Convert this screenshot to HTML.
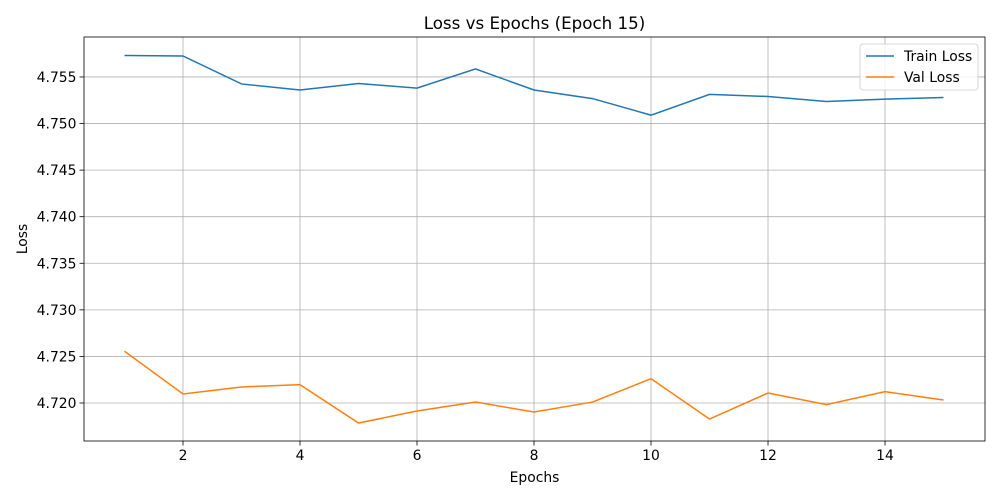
<!DOCTYPE html>
<html><head><meta charset="utf-8"><style>
html,body{margin:0;padding:0;background:#fff;}
svg{display:block;font-family:"DejaVu Sans","Liberation Sans",sans-serif;}
</style></head><body>
<svg id="chart" width="1000" height="500"></svg>
<script>
const epochs=[1,2,3,4,5,6,7,8,9,10,11,12,13,14,15];
const trainLoss=[4.75731,4.75725,4.75425,4.7536,4.7543,4.7538,4.75586,4.7536,4.75268,4.7509,4.75313,4.7529,4.75237,4.75262,4.7528];
const valLoss=[4.72556,4.72097,4.72172,4.72197,4.71785,4.71914,4.7201,4.71903,4.7201,4.72261,4.71828,4.72107,4.71983,4.72122,4.72032];
const xTicks=[2,4,6,8,10,12,14];
const yTicks=[4.720,4.725,4.730,4.735,4.740,4.745,4.750,4.755];
const L=84,R=985,T=37,B=441;
const xMin=0.308,xMax=15.709,yMin=4.71592,yMax=4.75929;
const sx=v=>L+(v-xMin)/(xMax-xMin)*(R-L);
const sy=v=>B-(v-yMin)/(yMax-yMin)*(B-T);
const svg=document.getElementById('chart');
const NS='http://www.w3.org/2000/svg';
function mk(tag,attrs,parent){const e=document.createElementNS(NS,tag);for(const k in attrs)e.setAttribute(k,attrs[k]);(parent||svg).appendChild(e);return e;}
const grid=mk('g',{});


xTicks.forEach(t=>{
  const x=sx(t);
  mk('line',{x1:x,x2:x,y1:T,y2:B,stroke:'#b0b0b0','stroke-width':0.8},grid);
  mk('line',{x1:x,x2:x,y1:B,y2:B+4.5,stroke:'#000','stroke-width':0.8});
  const tx=mk('text',{x:x,y:B+19,'text-anchor':'middle','font-size':13.9,fill:'#000'});
  tx.textContent=t;
  
  
});
yTicks.forEach(t=>{
  const y=sy(t);
  mk('line',{x1:L,x2:R,y1:y,y2:y,stroke:'#b0b0b0','stroke-width':0.8},grid);
  mk('line',{x1:L-4.5,x2:L,y1:y,y2:y,stroke:'#000','stroke-width':0.8});
  const tx=mk('text',{x:L-7.5,y:y+5,'text-anchor':'end','font-size':13.9,fill:'#000'});
  tx.textContent=t.toFixed(3);
  
  
});
function line(vals,color,name){
  const p=mk('polyline',{points:vals.map((v,i)=>sx(epochs[i])+','+sy(v)).join(' '),fill:'none',stroke:color,'stroke-width':1.5});
  
  
}
line(trainLoss,'#1f77b4','train-loss-line');
line(valLoss,'#ff7f0e','val-loss-line');
const frame=mk('rect',{x:L,y:T,width:R-L,height:B-T,fill:'none',stroke:'#000','stroke-width':0.8});


const title=mk('text',{x:(L+R)/2,y:29,'text-anchor':'middle','font-size':16.7,fill:'#000'});
title.textContent='Loss vs Epochs (Epoch 15)';


const xl=mk('text',{x:(L+R)/2,y:482,'text-anchor':'middle','font-size':13.9,fill:'#000'});
xl.textContent='Epochs';


const yl=mk('text',{x:27,y:(T+B)/2,'text-anchor':'middle','font-size':13.9,fill:'#000',transform:'rotate(-90 27 '+((T+B)/2)+')'});
yl.textContent='Loss';


const lg=mk('g',{});


mk('rect',{x:860,y:44,width:118,height:46,rx:3,fill:'#fff','fill-opacity':0.8,stroke:'#ccc','stroke-width':0.8},lg);
[['Train Loss','#1f77b4',56],['Val Loss','#ff7f0e',77]].forEach(([n,c,y])=>{
  const e=mk('g',{},lg);
  
  
  mk('line',{x1:866,x2:894,y1:y,y2:y,stroke:c,'stroke-width':1.5},e);
  const t=mk('text',{x:904,y:y+5,'font-size':13.9,fill:'#000'},e);
  t.textContent=n;
});
</script>
</body></html>
